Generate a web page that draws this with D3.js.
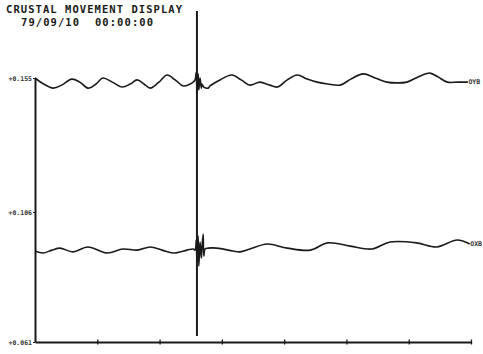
<!DOCTYPE html>
<html>
<head>
<meta charset="utf-8">
<script src="https://cdn.jsdelivr.net/npm/d3@7/dist/d3.min.js"></script>
<style>
  html, body { margin: 0; padding: 0; background: #fff; }
  svg { display: block; }
  text { font-family: "DejaVu Sans Mono", "Liberation Mono", monospace; white-space: pre; }
</style>
</head>
<body>
<svg id="chart" width="483" height="354"></svg>
<script>
// ---- data (time in minutes, values in display units) ----
const titleLines = ["CRUSTAL MOVEMENT DISPLAY", "79/09/10  00:00:00"];
const yTickValues = [0.061, 0.106, 0.155];
const xTickValues = [0, 10, 20, 30, 40, 50, 60, 70];
const seriesNames = ["OYB", "OXB"];
const eventTime = 26.0;
const eventExtent = [0.0631, 0.1795];

const oybTimes = [0, 1.4, 2.9, 4.3, 5.9, 7.2, 8.5, 9.8, 10.9, 12.4, 14.0, 15.3, 16.4, 17.5, 18.5, 19.9,
  21.2, 22.5, 23.8, 24.9, 25.4, 25.7, 25.9, 26.0, 26.2, 26.3, 26.5, 26.7, 26.8, 27.1, 27.8, 28.1,
  29.7, 31.6, 33.1, 34.5, 36.1, 37.7, 38.9, 40.5, 42.1, 43.7, 45.3, 47.0, 49.0, 50.7, 52.7, 54.6,
  56.5, 58.1, 59.7, 61.5, 63.4, 64.7, 66.2, 67.9, 69.5];
const oybValues = [0.1550, 0.1528, 0.1513, 0.1524, 0.1546, 0.1535, 0.1513, 0.1528, 0.1550, 0.1535, 0.1517, 0.1528, 0.1543, 0.1528, 0.1513, 0.1535,
  0.1561, 0.1543, 0.1521, 0.1528, 0.1535, 0.1543, 0.1572, 0.1499, 0.1565, 0.1506, 0.1550, 0.1513, 0.1528, 0.1517, 0.1513, 0.1521,
  0.1543, 0.1561, 0.1543, 0.1524, 0.1535, 0.1524, 0.1517, 0.1543, 0.1561, 0.1546, 0.1535, 0.1528, 0.1524, 0.1546, 0.1565, 0.1550,
  0.1535, 0.1532, 0.1535, 0.1554, 0.1568, 0.1554, 0.1535, 0.1535, 0.1535];

const oxbTimes = [0, 1.3, 2.7, 4.0, 6.1, 8.5, 11.6, 14.1, 16.4, 18.5, 20.4, 22.2, 24.4, 25.4, 25.7, 25.9,
  26.0, 26.2, 26.3, 26.5, 26.7, 26.8, 27.0, 27.1, 27.3, 27.8, 29.2, 31.8, 32.9, 34.5, 37.3, 40.5,
  44.2, 47.0, 50.6, 54.1, 57.0, 61.3, 64.5, 67.8, 69.8];
const oxbValues = [0.0925, 0.0918, 0.0928, 0.0935, 0.0922, 0.0939, 0.0918, 0.0932, 0.0928, 0.0939, 0.0928, 0.0918, 0.0928, 0.0932, 0.0928, 0.0963,
  0.0887, 0.0977, 0.0873, 0.0956, 0.0901, 0.0935, 0.0984, 0.0908, 0.0932, 0.0935, 0.0935, 0.0925, 0.0922, 0.0932, 0.0949, 0.0935,
  0.0928, 0.0953, 0.0942, 0.0932, 0.0956, 0.0953, 0.0939, 0.0963, 0.0949];

// ---- drawing ----
const svg = d3.select("#chart");
const ink = "#1a1a1a";

const x = d3.scaleLinear().domain([0, 70]).range([35, 471]);
const y = d3.scaleLinear().domain([0.061, 0.106, 0.155]).range([342, 212, 78]);

// title
svg.append("text").attr("x", 6).attr("y", 12.5)
  .attr("font-size", 10.5).attr("font-weight", "bold").style("fill", ink)
  .attr("textLength", 176).attr("lengthAdjust", "spacing")
  .text(titleLines[0]);
svg.append("text").attr("x", 21).attr("y", 25.5)
  .attr("font-size", 10.5).attr("font-weight", "bold").style("fill", ink)
  .attr("textLength", 132).attr("lengthAdjust", "spacing")
  .text(titleLines[1]);

// y axis
const yAxis = svg.append("g").attr("transform", `translate(${x(0)},0)`)
  .call(d3.axisLeft(y).tickValues(yTickValues).tickSize(2).tickSizeOuter(0)
    .tickPadding(1).tickFormat(d3.format("+.3f")));
yAxis.select(".domain").attr("stroke", ink).attr("stroke-width", 2);
yAxis.selectAll(".tick line").attr("stroke", ink).attr("stroke-width", 1.2);
yAxis.selectAll(".tick text").attr("font-size", 6.5).attr("font-weight", "bold")
  .style("fill", "#333").attr("font-family", "'DejaVu Sans Mono', monospace");

// x axis
const xAxis = svg.append("g").attr("transform", `translate(0,${y(0.061)})`)
  .call(d3.axisBottom(x).tickValues(xTickValues.slice(1)).tickSize(3).tickSizeOuter(0).tickFormat(""));
xAxis.select(".domain").attr("stroke", ink).attr("stroke-width", 1.8);
xAxis.selectAll(".tick line").attr("y1", -2.5).attr("y2", 2.5).attr("stroke", ink).attr("stroke-width", 1.3);

// event marker
svg.append("line")
  .attr("x1", x(eventTime)).attr("x2", x(eventTime))
  .attr("y1", y(eventExtent[1])).attr("y2", y(eventExtent[0]))
  .attr("stroke", ink).attr("stroke-width", 2);

// traces
const line = d3.line().x(d => x(d[0])).y(d => y(d[1])).curve(d3.curveCatmullRom.alpha(0.5));
const series = [
  { name: seriesNames[0], pts: d3.zip(oybTimes, oybValues) },
  { name: seriesNames[1], pts: d3.zip(oxbTimes, oxbValues) }
];
series.forEach(s => {
  svg.append("path").datum(s.pts)
    .attr("fill", "none").attr("stroke", ink).attr("stroke-width", 1.6)
    .attr("stroke-linejoin", "round")
    .attr("d", line);
  const last = s.pts[s.pts.length - 1];
  svg.append("text")
    .attr("x", x(last[0]) + 0.5).attr("y", y(last[1]) + 2.2)
    .attr("font-size", 6.5).attr("font-weight", "bold").style("fill", "#333")
    .text(s.name);
});
</script>
</body>
</html>
